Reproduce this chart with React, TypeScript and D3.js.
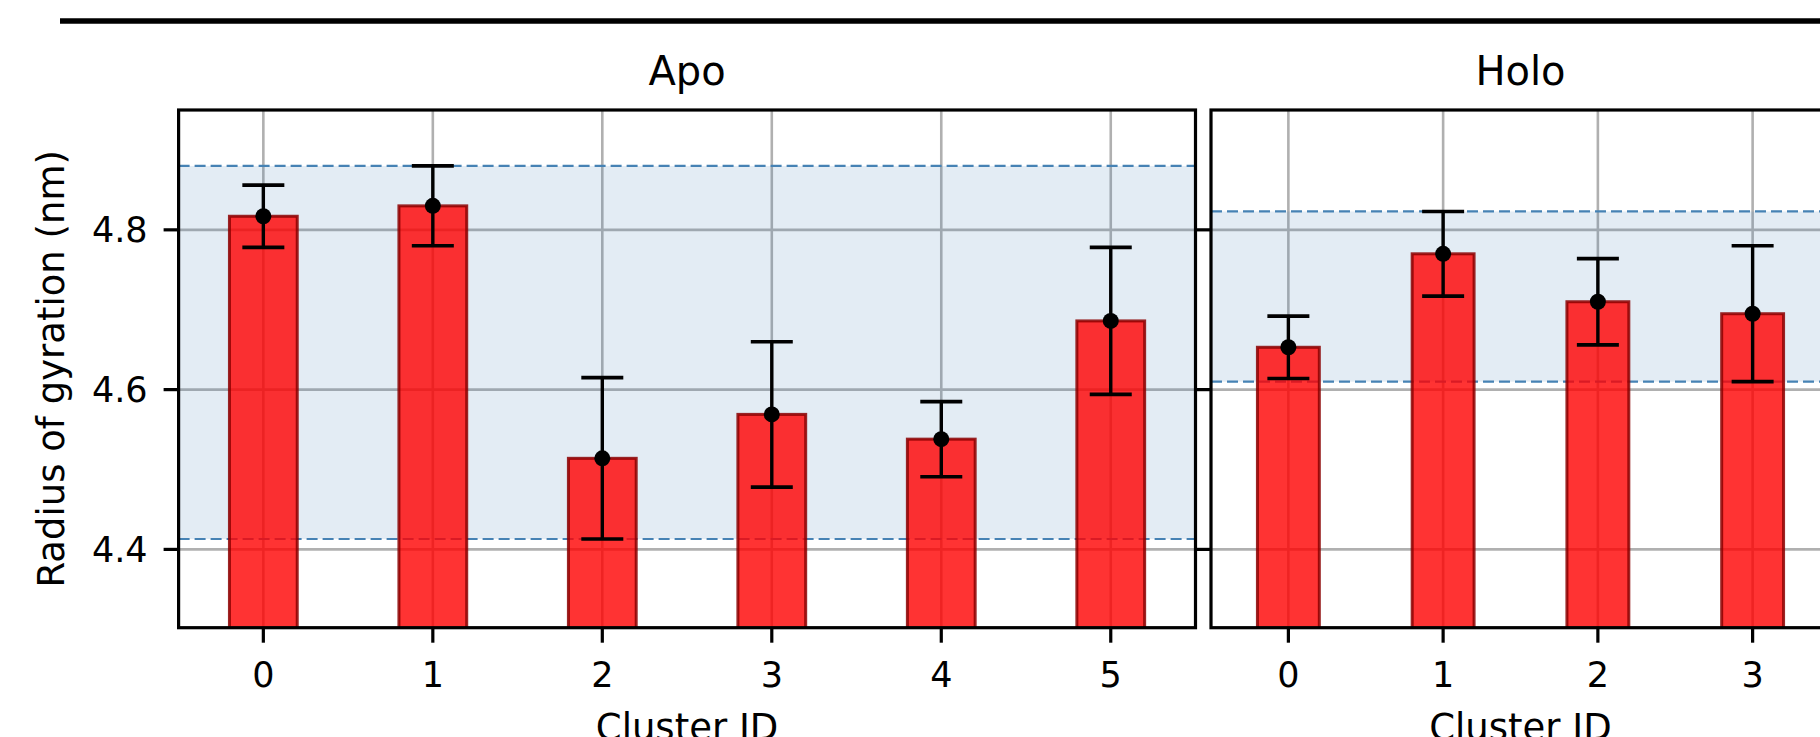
import React from "react";
import * as d3 from "d3";

// ---- data ----
const apoClusters = [0, 1, 2, 3, 4, 5];
const apoMeans = [4.817, 4.830, 4.514, 4.569, 4.538, 4.686];
const apoErrs = [0.039, 0.050, 0.101, 0.091, 0.047, 0.092];

const holoClusters = [0, 1, 2, 3];
const holoMeans = [4.653, 4.770, 4.710, 4.695];
const holoErrs = [0.039, 0.053, 0.054, 0.085];

const yTicks = [4.4, 4.6, 4.8];
const yDomain = [4.302, 4.95];
const panelTitles = ["Apo", "Holo"];
const xLabel = "Cluster ID";
const yLabel = "Radius of gyration (nm)";

const W = 1820;
const H = 737;
const TOP = 110;
const BOTTOM = 627.7;
const FONT = "DejaVu Sans, sans-serif";

const y = d3.scaleLinear().domain(yDomain).range([BOTTOM, TOP]);

type PanelProps = {
  id: string;
  title: string;
  clusters: number[];
  means: number[];
  errs: number[];
  x0: number;
  x1: number;
  showYLabels: boolean;
};

function Panel({ id, title, clusters, means, errs, x0, x1, showYLabels }: PanelProps) {
  const x = d3
    .scaleLinear()
    .domain([clusters[0] - 0.5, clusters[clusters.length - 1] + 0.5])
    .range([x0, x1]);
  const unit = x(1) - x(0);
  const barW = 0.4 * unit;
  const lo = d3.min(means.map((m, i) => m - errs[i])) as number;
  const hi = d3.max(means.map((m, i) => m + errs[i])) as number;
  const clipId = `clip-${id}`;
  const gridColor = "#b0b0b0";
  const capHalf = 21;
  return (
    <g>
      <defs>
        <clipPath id={clipId}>
          <rect x={x0} y={TOP} width={x1 - x0} height={BOTTOM - TOP} />
        </clipPath>
      </defs>
      <g clipPath={`url(#${clipId})`}>
        {/* grid */}
        {yTicks.map((t) => (
          <line key={`gy${t}`} x1={x0} x2={x1} y1={y(t)} y2={y(t)} stroke={gridColor} strokeWidth={2.6} />
        ))}
        {clusters.map((c) => (
          <line key={`gx${c}`} x1={x(c)} x2={x(c)} y1={TOP} y2={BOTTOM} stroke={gridColor} strokeWidth={2.6} />
        ))}
        {/* band */}
        <rect x={x0} y={y(hi)} width={x1 - x0} height={y(lo) - y(hi)} fill="steelblue" fillOpacity={0.15} />
        <line x1={x0} x2={x1} y1={y(hi)} y2={y(hi)} stroke="steelblue" strokeWidth={2.2} strokeDasharray="11,5" />
        <line x1={x0} x2={x1} y1={y(lo)} y2={y(lo)} stroke="steelblue" strokeWidth={2.2} strokeDasharray="11,5" />
        {/* bars */}
        {clusters.map((c, i) => (
          <rect
            key={`b${c}`}
            x={x(c) - barW / 2}
            y={y(means[i])}
            width={barW}
            height={BOTTOM + 20 - y(means[i])}
            fill="red"
            fillOpacity={0.8}
            stroke="#8b0000"
            strokeOpacity={0.85}
            strokeWidth={3}
          />
        ))}
        {/* error bars */}
        {clusters.map((c, i) => {
          const cx = x(c);
          const yt = y(means[i] + errs[i]);
          const yb = y(means[i] - errs[i]);
          return (
            <g key={`e${c}`}>
              <line x1={cx} x2={cx} y1={yt} y2={yb} stroke="black" strokeWidth={3.4} />
              <line x1={cx - capHalf} x2={cx + capHalf} y1={yt} y2={yt} stroke="black" strokeWidth={3.6} />
              <line x1={cx - capHalf} x2={cx + capHalf} y1={yb} y2={yb} stroke="black" strokeWidth={3.6} />
              <circle cx={cx} cy={y(means[i])} r={8} fill="black" />
            </g>
          );
        })}
      </g>
      {/* spines */}
      <rect x={x0} y={TOP} width={x1 - x0} height={BOTTOM - TOP} fill="none" stroke="black" strokeWidth={3.2} />
      {/* y ticks */}
      {yTicks.map((t) => (
        <g key={`yt${t}`}>
          <line x1={x0 - 15} x2={x0} y1={y(t)} y2={y(t)} stroke="black" strokeWidth={3.2} />
          {showYLabels && (
            <text x={x0 - 31} y={y(t)} dy="0.36em" textAnchor="end" fontFamily={FONT} fontSize={35} fill="black">
              {t.toFixed(1)}
            </text>
          )}
        </g>
      ))}
      {/* x ticks */}
      {clusters.map((c) => (
        <g key={`xt${c}`}>
          <line x1={x(c)} x2={x(c)} y1={BOTTOM} y2={BOTTOM + 15} stroke="black" strokeWidth={3.2} />
          <text x={x(c)} y={687} textAnchor="middle" fontFamily={FONT} fontSize={35} fill="black">
            {c}
          </text>
        </g>
      ))}
      <text x={(x0 + x1) / 2} y={740} textAnchor="middle" fontFamily={FONT} fontSize={37} fill="black">
        {xLabel}
      </text>
      <text x={(x0 + x1) / 2} y={85} textAnchor="middle" fontFamily={FONT} fontSize={40} fill="black">
        {title}
      </text>
    </g>
  );
}

export default function App() {
  return (
    <svg
      width={W}
      height={H}
      viewBox={`0 0 ${W} ${H}`}
      style={{ position: "absolute", left: 0, top: 0, background: "white", display: "block" }}
    >
      <rect x={0} y={0} width={W} height={H} fill="white" />
      <line x1={60} x2={W} y1={21} y2={21} stroke="black" strokeWidth={5.5} />
      <text
        transform={`translate(64, ${(TOP + BOTTOM) / 2}) rotate(-90)`}
        textAnchor="middle"
        fontFamily={FONT}
        fontSize={37}
        fill="black"
      >
        {yLabel}
      </text>
      <Panel
        id="apo"
        title={panelTitles[0]}
        clusters={apoClusters}
        means={apoMeans}
        errs={apoErrs}
        x0={178.6}
        x1={1195.5}
        showYLabels={true}
      />
      <Panel
        id="holo"
        title={panelTitles[1]}
        clusters={holoClusters}
        means={holoMeans}
        errs={holoErrs}
        x0={1211}
        x1={1830}
        showYLabels={false}
      />
    </svg>
  );
}
